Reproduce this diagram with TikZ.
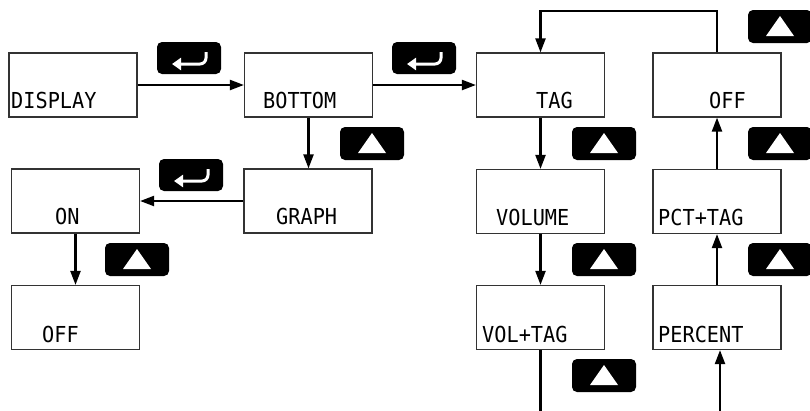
\documentclass[tikz,border=0pt]{standalone}
\usepackage{fontspec}
\newfontfamily\lcd[FakeStretch=0.92]{DejaVu Sans Mono}
\usetikzlibrary{arrows.meta}
\tikzset{
  lcdbox/.style={draw=black!80, line width=1.2pt, minimum width=128pt, minimum height=64pt, inner sep=0pt},
  lcdtext/.style={anchor=base west, inner sep=0pt, font=\lcd\fontsize{22}{22}\selectfont},
  conn/.style={line width=2.2pt, -{Triangle[length=14pt,width=10pt]}},
  plainconn/.style={line width=2.2pt},
  btn/.style={fill=black, rounded corners=5pt, minimum width=64pt, minimum height=33pt, inner sep=0pt},
  upbtn/.style={btn, path picture={
      \fill[white, sharp corners] ([shift={(0,-10.5)}]path picture bounding box.center)
        -- ([shift={(14,9.5)}]path picture bounding box.center)
        -- ([shift={(-14,9.5)}]path picture bounding box.center) -- cycle;}},
  enterbtn/.style={btn, minimum height=32pt, path picture={
      \draw[white, line width=3pt, rounded corners=6pt, -{Triangle[length=9pt,width=12pt]}]
        ([shift={(17,-6)}]path picture bounding box.center)
        -- ([shift={(17,6)}]path picture bounding box.center)
        -- ([shift={(-17,6)}]path picture bounding box.center);}}
}
\begin{document}
\begin{tikzpicture}[x=1pt, y=-1pt]
\useasboundingbox (0,0) rectangle (810,410);
\clip (0,0) rectangle (810,410);
% boxes
\node[lcdbox] (display) at (73,85) {};
\node[lcdbox] (bottom) at (308.5,85) {};
\node[lcdbox] (tag) at (540.5,85) {};
\node[lcdbox] (offA) at (717,85) {};
\node[lcdbox] (on) at (75.5,201) {};
\node[lcdbox] (graph) at (308,201) {};
\node[lcdbox] (offB) at (75.5,317.5) {};
\node[lcdbox] (volume) at (540.5,201.5) {};
\node[lcdbox] (voltag) at (540.5,317.5) {};
\node[lcdbox] (pcttag) at (717,201.5) {};
\node[lcdbox] (percent) at (717,317.5) {};
% texts
\node[lcdtext] (tdisplay) at (11,108) {DISPLAY};
\node[lcdtext] (tbottom) at (263,108) {BOTTOM};
\node[lcdtext] (ttag) at (536,108) {TAG};
\node[lcdtext] (toffA) at (709,108) {OFF};
\node[lcdtext] (ton) at (55,224) {ON};
\node[lcdtext] (tgraph) at (276,224) {GRAPH};
\node[lcdtext] (toffB) at (42,342) {OFF};
\node[lcdtext] (tvolume) at (496,225) {VOLUME};
\node[lcdtext] (tvoltag) at (482,342) {VOL+TAG};
\node[lcdtext] (tpcttag) at (658,225) {PCT+TAG};
\node[lcdtext] (tpercent) at (658,342) {PERCENT};
% buttons
\node[enterbtn] (e1) at (189,58) {};
\node[enterbtn] (e2) at (424,58) {};
\node[enterbtn] (e3) at (191,175) {};
\node[upbtn] (u1) at (372,143.5) {};
\node[upbtn] (u2) at (137,259.5) {};
\node[upbtn] (u3) at (604,143.5) {};
\node[upbtn] (u4) at (780,26.5) {};
\node[upbtn] (u5) at (780,143.5) {};
\node[upbtn] (u6) at (604,259.5) {};
\node[upbtn] (u7) at (780,259.5) {};
\node[upbtn] (u8) at (604,375.5) {};
% connectors
\coordinate (looptop) at (717,11);
\coordinate (vend) at (540.5,411);
\coordinate (pstart) at (720,411);
\draw[conn] (display.east) -- (bottom.west);
\draw[conn] (bottom.east) -- (tag.west);
\draw[conn] (bottom.south) -- (graph.north -| bottom.south);
\draw[conn] (graph.west) -- (on.east);
\draw[conn] (on.south) -- (offB.north);
\draw[conn] (tag.south) -- (volume.north);
\draw[conn] (volume.south) -- (voltag.north);
\draw[plainconn] (voltag.south) -- (vend);
\draw[conn] (pstart) -- (pstart |- percent.south);
\draw[conn] (percent.north) -- (pcttag.south);
\draw[conn] (pcttag.north) -- (offA.south);
\draw[conn] (offA.north) -- (looptop) -| (tag.north);
\end{tikzpicture}
\end{document}
